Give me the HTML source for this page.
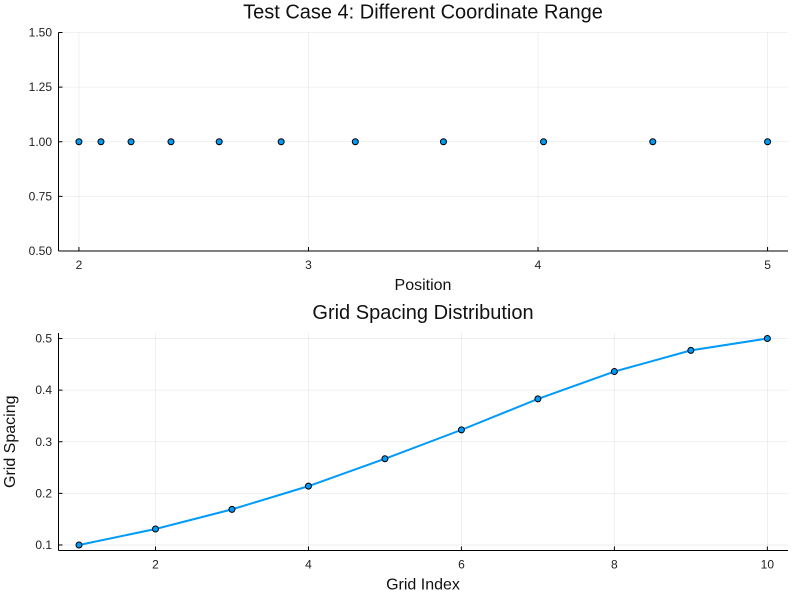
<!DOCTYPE html>
<html><head><meta charset="utf-8"><style>
body{margin:0;background:#fff}
svg{display:block;font-family:"Liberation Sans","DejaVu Sans",sans-serif}
</style></head><body>
<svg id="c" width="800" height="600"></svg>
<script>
const positions=[2,2.096,2.227,2.401,2.611,2.881,3.204,3.588,4.024,4.5,5];
const ones=[1,1,1,1,1,1,1,1,1,1,1];
const topXTicks=[2,3,4,5];
const topYTicks=[0.5,0.75,1.0,1.25,1.5];
const topYLabels=["0.50","0.75","1.00","1.25","1.50"];
const gridIndex=[1,2,3,4,5,6,7,8,9,10];
const spacing=[0.1,0.131,0.169,0.214,0.267,0.323,0.383,0.436,0.477,0.5];
const botXTicks=[2,4,6,8,10];
const botYTicks=[0.1,0.2,0.3,0.4,0.5];
const botYLabels=["0.1","0.2","0.3","0.4","0.5"];

const NS="http://www.w3.org/2000/svg";
const svg=document.getElementById('c');
function mk(t,a,p){const e=document.createElementNS(NS,t);for(const k in a)e.setAttribute(k,a[k]);(p||svg).appendChild(e);return e;}
function lin(d0,d1,r0,r1){return v=>r0+(v-d0)/(d1-d0)*(r1-r0);}

function panel(o){
  const g=mk('g',{});
  
  
  const x=lin(o.xd[0],o.xd[1],58.5,788), y=lin(o.yd[0],o.yd[1],o.bottom,o.top);
  o.xt.forEach(v=>{const l=mk('line',{x1:x(v),x2:x(v),y1:o.top,y2:o.bottom,stroke:'#000','stroke-opacity':0.1,'stroke-width':0.6},g);
    });
  o.yt.forEach(v=>{const l=mk('line',{x1:58.5,x2:788,y1:y(v),y2:y(v),stroke:'#000','stroke-opacity':0.1,'stroke-width':0.6},g);
    });
  const ax=mk('line',{x1:58.5,x2:788,y1:o.bottom,y2:o.bottom,stroke:'#000','stroke-width':1},g);
  
  const ay=mk('line',{x1:58.5,x2:58.5,y1:o.top,y2:o.bottom,stroke:'#000','stroke-width':1},g);
  
  o.xt.forEach((v,i)=>{mk('line',{x1:x(v),x2:x(v),y1:o.bottom,y2:o.bottom-4,stroke:'#000'},g);
    const t=mk('text',{x:x(v),y:o.bottom+18,'text-anchor':'middle','font-size':12,fill:'#222'},g);t.textContent=String(v);
    });
  o.yt.forEach((v,i)=>{mk('line',{x1:58.5,x2:62.5,y1:y(v),y2:y(v),stroke:'#000'},g);
    const t=mk('text',{x:52,y:y(v)+4,'text-anchor':'end','font-size':12,fill:'#222'},g);t.textContent=o.yl[i];
    });
  const ti=mk('text',{x:423,y:o.top-14,'text-anchor':'middle','font-size':20,fill:'#111'},g);ti.textContent=o.title;
  
  const xl=mk('text',{x:423,y:o.bottom+39,'text-anchor':'middle','font-size':16,fill:'#111'},g);xl.textContent=o.xlabel;
  
  if(o.ylabel){const yl=mk('text',{x:0,y:0,'text-anchor':'middle','font-size':16,fill:'#111',transform:`translate(15,${(o.top+o.bottom)/2}) rotate(-90)`},g);
    yl.textContent=o.ylabel;}
  if(o.line){const p=mk('polyline',{points:o.xs.map((v,i)=>x(v)+','+y(o.ys[i])).join(' '),fill:'none',stroke:'#009af9','stroke-width':2},g);
    }
  o.xs.forEach((v,i)=>{const c=mk('circle',{cx:x(v),cy:y(o.ys[i]),r:3,fill:'#009af9',stroke:'#000','stroke-width':1},g);
    });
}
panel({name:'top-panel',xd:[1.911,5.089],yd:[0.5,1.5],top:32.5,bottom:251,xt:topXTicks,yt:topYTicks,yl:topYLabels,
  title:'Test Case 4: Different Coordinate Range',xlabel:'Position',xs:positions,ys:ones,line:false});
panel({name:'bottom-panel',xd:[0.732,10.27],yd:[0.0893,0.5107],top:333,bottom:550.5,xt:botXTicks,yt:botYTicks,yl:botYLabels,
  title:'Grid Spacing Distribution',xlabel:'Grid Index',ylabel:'Grid Spacing',xs:gridIndex,ys:spacing,line:true});
</script>
</body></html>
